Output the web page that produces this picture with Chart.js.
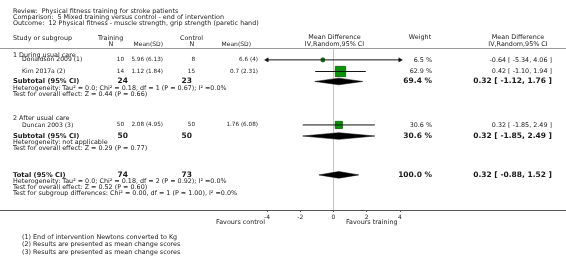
<!DOCTYPE html>
<html>
<head>
<meta charset="utf-8">
<script src="https://cdn.jsdelivr.net/npm/chart.js@4/dist/chart.umd.min.js"></script>
<style>
  html, body { margin: 0; padding: 0; background: #fff; }
  #wrap { width: 566px; height: 265px; }
</style>
</head>
<body>
<div id="wrap"><canvas id="forest" width="566" height="265"></canvas></div>
<script>
// Dados do estudo
const GRUPOS = ['1 During usual care', '2 After usual care'];
const ESTUDOS = ['Donaldson 2009 (1)', 'Kim 2017a (2)', 'Duncan 2003 (3)'];
const TREINO_N = [10, 14, 50];
const TREINO_MDP = ['5.96 (6.13)', '1.12 (1.84)', '2.08 (4.95)'];
const CONTROLE_N = [8, 15, 50];
const CONTROLE_MDP = ['6.6 (4)', '0.7 (2.31)', '1.76 (6.08)'];
const PESO = [6.5, 62.9, 30.6];
const DM = [-0.64, 0.42, 0.32];
const DM_INF = [-5.34, -1.10, -1.85];
const DM_SUP = [4.06, 1.94, 2.49];

// Subtotais e total
const AGR_ROTULO = ['Subtotal (95% CI)', 'Subtotal (95% CI)', 'Total (95% CI)'];
const AGR_TREINO_N = [24, 50, 74];
const AGR_CONTROLE_N = [23, 50, 73];
const AGR_PESO = [69.4, 30.6, 100.0];
const AGR_DM = [0.32, 0.32, 0.32];
const AGR_INF = [-1.12, -1.85, -0.88];
const AGR_SUP = [1.76, 2.49, 1.52];
const AGR_NOTAS = [
  ['Heterogeneity: Tau\u00b2 = 0.0; Chi\u00b2 = 0.18, df = 1 (P = 0.67); I\u00b2 =0.0%',
   'Test for overall effect: Z = 0.44 (P = 0.66)'],
  ['Heterogeneity: not applicable',
   'Test for overall effect: Z = 0.29 (P = 0.77)'],
  ['Heterogeneity: Tau\u00b2 = 0.0; Chi\u00b2 = 0.18, df = 2 (P = 0.92); I\u00b2 =0.0%',
   'Test for overall effect: Z = 0.52 (P = 0.60)',
   'Test for subgroup differences: Chi\u00b2 = 0.00, df = 1 (P = 1.00), I\u00b2 =0.0%']
];

const X_TICKS = [-4, -2, 0, 2, 4];
const X_MIN = -4, X_MAX = 4;

const CABECALHO = [
  'Review:  Physical fitness training for stroke patients',
  'Comparison:  5 Mixed training versus control - end of intervention',
  'Outcome:  12 Physical fitness - muscle strength, grip strength (paretic hand)'
];
const NOTAS_RODAPE = [
  '(1) End of intervention Newtons converted to Kg',
  '(2) Results are presented as mean change scores',
  '(3) Results are presented as mean change scores'
];

// Layout: linhas no eixo y (unidades de linha)
const LINHA_GRUPO = [1.3, 13.05];
const LINHA_ESTUDO = [2.2, 4.35, 14.25];
const LINHA_AGR = [6.2, 16.3, 23.5];

const VERDE = '#0a930a';
const FONTE = '"DejaVu Sans", Verdana, sans-serif';
const F = 6.4;      // texto normal
const FT = 5.7;     // celulas numericas da tabela
const FB = 6.7;     // rotulos em negrito
const FN = 7.5;     // numeros em negrito

function fmt(v) { return v.toFixed(2); }
function ci(m, lo, hi) { return `${fmt(m)} [ ${fmt(lo)}, ${fmt(hi)} ]`; }

// Datasets
const datasets = [];

// Linhas de IC de cada estudo (cortadas no limite do eixo)
ESTUDOS.forEach((_, i) => {
  datasets.push({
    data: [
      { x: Math.max(DM_INF[i], X_MIN), y: LINHA_ESTUDO[i] },
      { x: Math.min(DM_SUP[i], X_MAX), y: LINHA_ESTUDO[i] }
    ],
    borderColor: '#111', borderWidth: 1, pointRadius: 0, showLine: true, fill: false
  });
});

// Setas quando o IC passa do eixo
const setas = [];
ESTUDOS.forEach((_, i) => {
  if (DM_INF[i] < X_MIN) setas.push({ x: X_MIN, y: LINHA_ESTUDO[i] });
  if (DM_SUP[i] > X_MAX) setas.push({ x: X_MAX, y: LINHA_ESTUDO[i] });
});
datasets.push({
  data: setas, showLine: false, clip: false,
  pointStyle: 'triangle', pointRadius: 2.4,
  rotation: ctx => (ctx.raw && ctx.raw.x < 0 ? -90 : 90),
  backgroundColor: '#111', borderColor: '#111', borderWidth: 0.5
});

// Quadrados (tamanho pelo peso)
datasets.push({
  data: ESTUDOS.map((_, i) => ({ x: DM[i], y: LINHA_ESTUDO[i] })),
  showLine: false, pointStyle: 'rect',
  pointRadius: ESTUDOS.map((_, i) => Math.sqrt(PESO[i]) * 0.92),
  backgroundColor: VERDE, borderColor: '#056005', borderWidth: 0.8
});

// Tracinho vertical no ponto
datasets.push({
  data: ESTUDOS.map((_, i) => ({ x: DM[i], y: LINHA_ESTUDO[i] })),
  showLine: false, pointStyle: 'line', rotation: 90, pointRadius: 2.5,
  borderColor: '#111', borderWidth: 0.8
});

// Losangos dos subtotais/total
const MEIA_ALTURA = 0.62;
AGR_ROTULO.forEach((_, i) => {
  const y = LINHA_AGR[i];
  datasets.push({
    data: [
      { x: AGR_INF[i], y },
      { x: AGR_DM[i], y: y - MEIA_ALTURA },
      { x: AGR_SUP[i], y },
      { x: AGR_DM[i], y: y + MEIA_ALTURA },
      { x: AGR_INF[i], y }
    ],
    showLine: true, fill: 'shape', tension: 0, pointRadius: 0,
    backgroundColor: '#000', borderColor: '#000', borderWidth: 0.5
  });
});

// Textos desenhados sobre o canvas
const textosPlugin = {
  id: 'textos',
  afterDraw(chart) {
    const { ctx, scales: { x, y } } = chart;
    const W = chart.width;
    ctx.save();
    ctx.textBaseline = 'middle';
    const txt = (s, px, py, size, align, bold) => {
      ctx.font = `${bold ? 'bold ' : ''}${size}px ${FONTE}`;
      ctx.textAlign = align || 'left';
      ctx.fillStyle = '#1a1a1a';
      ctx.fillText(s, px, py);
    };

    // linhas horizontais: cabecalho e eixo
    ctx.strokeStyle = '#9a9a9a';
    ctx.lineWidth = 1;
    ctx.beginPath(); ctx.moveTo(0, 48.5); ctx.lineTo(W, 48.5); ctx.stroke();
    ctx.strokeStyle = '#555';
    ctx.beginPath(); ctx.moveTo(0, chart.chartArea.bottom + 0.5); ctx.lineTo(W, chart.chartArea.bottom + 0.5); ctx.stroke();

    // titulo
    CABECALHO.forEach((s, i) => txt(s, 13, 11 + i * 6.3, F, 'left'));

    // cabecalho das colunas
    txt('Study or subgroup', 13, 38.3, F);
    txt('Training', 98, 38.3, F);
    txt('N', 111, 44, F, 'center');
    txt('Mean(SD)', 163, 44, FT + 0.3, 'right');
    txt('Control', 180, 38.3, F);
    txt('N', 192, 44, F, 'center');
    txt('Mean(SD)', 251, 44, FT + 0.3, 'right');
    const xz = x.getPixelForValue(0);
    txt('Mean Difference', xz + 1, 37.5, F, 'center');
    txt('IV,Random,95% CI', xz + 1, 44, F, 'center');
    txt('Weight', 420, 37.5, F, 'center');
    txt('Mean Difference', 518, 37.5, F, 'center');
    txt('IV,Random,95% CI', 518, 44, F, 'center');

    // grupos
    GRUPOS.forEach((g, i) => txt(g, 13, y.getPixelForValue(LINHA_GRUPO[i]), F));

    // estudos
    ESTUDOS.forEach((s, i) => {
      const py = y.getPixelForValue(LINHA_ESTUDO[i]);
      txt(s, 22, py, 6.1);
      txt(String(TREINO_N[i]), 124, py, FT, 'right');
      txt(TREINO_MDP[i], 163, py, FT, 'right');
      txt(String(CONTROLE_N[i]), 195, py, FT, 'right');
      txt(CONTROLE_MDP[i], 258, py, FT, 'right');
      txt(PESO[i].toFixed(1) + ' %', 432, py, F, 'right');
      txt(ci(DM[i], DM_INF[i], DM_SUP[i]), 552, py, F, 'right');
    });

    // subtotais / total
    AGR_ROTULO.forEach((s, i) => {
      const py = y.getPixelForValue(LINHA_AGR[i]);
      txt(s, 13, py, FB, 'left', true);
      txt(String(AGR_TREINO_N[i]), 128, py, FN, 'right', true);
      txt(String(AGR_CONTROLE_N[i]), 192, py, FN, 'right', true);
      txt(AGR_PESO[i].toFixed(1) + ' %', 432, py, FN, 'right', true);
      txt(ci(AGR_DM[i], AGR_INF[i], AGR_SUP[i]), 552, py, FN, 'right', true);
      AGR_NOTAS[i].forEach((n, k) => txt(n, 13, py + 6.6 + k * 5.9, F));
    });

    // rodape
    const yb = chart.chartArea.bottom;
    txt('Favours control', 265, yb + 12.5, F, 'right');
    txt('Favours training', 346, yb + 12.5, F, 'left');
    NOTAS_RODAPE.forEach((n, i) => txt(n, 22, yb + 27 + i * 7.5, F));
    ctx.restore();
  }
};

new Chart(document.getElementById('forest'), {
  type: 'line',
  data: { datasets },
  options: {
    responsive: false,
    animation: false,
    events: [],
    layout: { padding: { left: 267, right: 166, top: 48, bottom: 41 } },
    plugins: { legend: { display: false }, tooltip: { enabled: false } },
    scales: {
      x: {
        type: 'linear', min: X_MIN, max: X_MAX,
        afterBuildTicks: s => { s.ticks = X_TICKS.map(v => ({ value: v })); },
        afterFit: s => { s.height = 14; },
        border: { display: false },
        grid: {
          drawOnChartArea: true, drawTicks: true, tickLength: 2,
          color: c => (c.tick && c.tick.value === 0 ? '#c4c4c4' : 'rgba(0,0,0,0)'),
          tickColor: '#555'
        },
        ticks: {
          padding: 2, maxRotation: 0, autoSkip: false,
          color: '#222', font: { family: 'DejaVu Sans', size: 6 },
          callback: v => String(v)
        }
      },
      y: { type: 'linear', min: 0, max: 30, reverse: true, display: false }
    }
  },
  plugins: [textosPlugin]
});
</script>
</body>
</html>
